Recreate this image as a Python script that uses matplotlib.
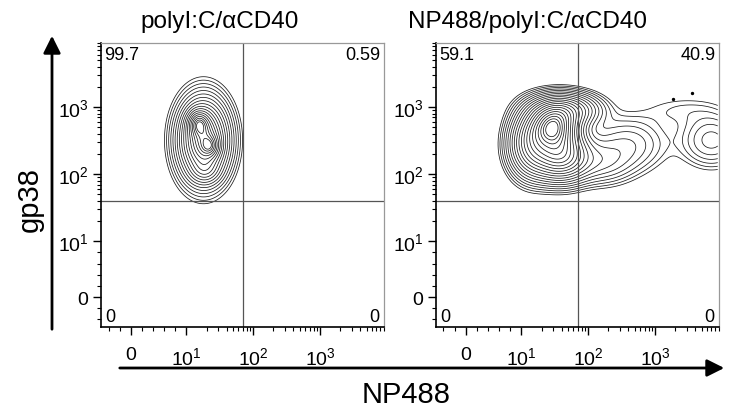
import numpy as np
import matplotlib
matplotlib.use("Agg")
import matplotlib.pyplot as plt
from matplotlib.patches import FancyArrowPatch

plt.rcParams["font.family"] = ["Liberation Sans", "DejaVu Sans"]
plt.rcParams["mathtext.fontset"] = "custom"
plt.rcParams["mathtext.rm"] = "Liberation Sans"

# ---- data ----
panel_titles = ["polyI:C/\u03b1CD40", "NP488/polyI:C/\u03b1CD40"]
quad_pcts = [["99.7", "0.59", "0", "0"], ["59.1", "40.9", "0", "0"]]   # UL, UR, LL, LR
gate_np488 = 70
gate_gp38 = 40
tick_vals = [0, 10, 100, 1000]
tick_labels = ["0", r"$\mathregular{10^1}$", r"$\mathregular{10^2}$", r"$\mathregular{10^3}$"]
axis_min, axis_max = -5.35, 8700

# population blobs: centre (NP488, gp38), spread in decades, relative weight
left_cx = [18, 15, 23, 19]
left_cy = [320, 580, 260, 110]
left_sx = [0.21, 0.1, 0.09, 0.13]
left_sy = [0.34, 0.12, 0.1, 0.11]
left_w = [1.0, 0.45, 0.3, 0.15]

right_cx = [30, 38, 14, 45, 400, 7000, 2500, 150]
right_cy = [500, 190, 280, 900, 280, 320, 900, 150]
right_sx = [0.22, 0.25, 0.2, 0.3, 0.35, 0.28, 0.4, 0.3]
right_sy = [0.2, 0.22, 0.28, 0.15, 0.25, 0.24, 0.15, 0.2]
right_w = [1.0, 0.7, 0.45, 0.4, 0.1, 0.12, 0.03, 0.12]

right_dots_x = [1850, 3600]
right_dots_y = [1300, 1600]

LINSCALE = 0.75
LS_ADJ = LINSCALE / (1 - 0.1)


def fwd(v):
    v = np.asarray(v, dtype=float)
    a = np.abs(v)
    return np.where(a <= 10, v / 10 * LS_ADJ, np.sign(v) * (LS_ADJ + np.log10(np.maximum(a, 1e-9) / 10)))


def inv(t):
    t = np.asarray(t, dtype=float)
    a = np.abs(t)
    return np.where(a <= LS_ADJ, t / LS_ADJ * 10, np.sign(t) * 10 * 10 ** (a - LS_ADJ))


def density(cx, cy, sx, sy, w, tx, ty):
    z = np.zeros_like(tx)
    for x0, y0, a, b, ww in zip(cx, cy, sx, sy, w):
        z += ww * np.exp(-0.5 * (((tx - fwd(x0)) / a) ** 2 + ((ty - fwd(y0)) / b) ** 2))
    return z


fig = plt.figure(figsize=(7.44, 4.14), dpi=100)
axes = [fig.add_axes([0.1358, 0.2077, 0.380, 0.686]),
        fig.add_axes([0.5860, 0.2077, 0.380, 0.686])]

t = np.linspace(fwd(axis_min), fwd(axis_max), 400)
TX, TY = np.meshgrid(t, t)
X, Y = inv(TX), inv(TY)

blobs = [(left_cx, left_cy, left_sx, left_sy, left_w, 18),
         (right_cx, right_cy, right_sx, right_sy, right_w, 21)]

minor = [-4, -2, 2, 4, 6, 8] + [k * 10 ** d for d in (1, 2, 3) for k in range(2, 10)]

for i, ax in enumerate(axes):
    cx, cy, sx, sy, w, nlev = blobs[i]
    Z = density(cx, cy, sx, sy, w, TX, TY)
    r = np.linspace(2.85, 0.35, nlev)
    levels = Z.max() * np.exp(-0.5 * r ** 2)
    ax.contour(X, Y, Z, levels=levels, colors="#1a1a1a", linewidths=0.55)
    if i == 1:
        ax.scatter(right_dots_x, right_dots_y, s=2, color="black")

    ax.set_xscale("symlog", linthresh=10, linscale=LINSCALE)
    ax.set_yscale("symlog", linthresh=10, linscale=LINSCALE)
    ax.set_xlim(axis_min, axis_max)
    ax.set_ylim(axis_min, axis_max)

    ax.axvline(gate_np488, color="#555555", lw=0.9)
    ax.axhline(gate_gp38, color="#555555", lw=0.9)

    ax.set_xticks(tick_vals)
    ax.set_xticklabels(tick_labels)
    ax.set_yticks(tick_vals)
    ax.set_yticklabels(tick_labels)
    ax.set_xticks(minor, minor=True)
    ax.set_yticks(minor, minor=True)
    ax.tick_params(which="major", length=6, width=1, labelsize=14, direction="out")
    ax.tick_params(which="minor", length=3, width=0.8, direction="out")
    ax.tick_params(axis="x", pad=8)
    ax.tick_params(axis="y", pad=3)

    for side in ("top", "right"):
        ax.spines[side].set_color("#999999")
        ax.spines[side].set_linewidth(0.9)
    for side in ("left", "bottom"):
        ax.spines[side].set_linewidth(1.2)

    ul, ur, ll, lr = quad_pcts[i]
    ax.text(0.012, 0.99, ul, transform=ax.transAxes, ha="left", va="top", fontsize=13)
    ax.text(0.988, 0.99, ur, transform=ax.transAxes, ha="right", va="top", fontsize=13)
    ax.text(0.015, 0.008, ll, transform=ax.transAxes, ha="left", va="bottom", fontsize=13)
    ax.text(0.985, 0.008, lr, transform=ax.transAxes, ha="right", va="bottom", fontsize=13)

fig.text(220 / 744, 1 - 22 / 414, panel_titles[0], ha="center", va="center", fontsize=17.5)
fig.text(528 / 744, 1 - 22 / 414, panel_titles[1], ha="center", va="center", fontsize=17.5)

# axis arrows
fig.add_artist(FancyArrowPatch((52 / 744, 1 - 333 / 414), (52 / 744, 1 - 34 / 414),
                               transform=fig.transFigure, arrowstyle="-|>",
                               mutation_scale=26, lw=2, color="black"))
fig.add_artist(FancyArrowPatch((117 / 744, 1 - 369 / 414), (727 / 744, 1 - 369 / 414),
                               transform=fig.transFigure, arrowstyle="-|>",
                               mutation_scale=26, lw=2, color="black"))
fig.text(30 / 744, 1 - 200 / 414, "gp38", rotation=90, ha="center", va="center", fontsize=21)
fig.text(406 / 744, 1 - 395 / 414, "NP488", ha="center", va="center", fontsize=21)

fig.savefig("out.png", dpi=100)
